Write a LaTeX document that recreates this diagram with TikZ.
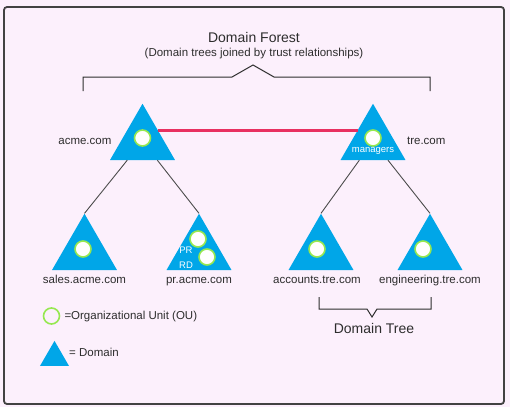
\documentclass[tikz,border=0pt]{standalone}
\usepackage{fontspec}
\setmainfont{Liberation Sans}
\usepackage{tikz}
\usetikzlibrary{shapes.geometric, positioning, calc}

\definecolor{domainblue}{RGB}{0,166,232}
\definecolor{trustred}{RGB}{232,48,96}
\definecolor{ougreen}{RGB}{150,232,80}
\definecolor{paper}{RGB}{252,240,252}
\definecolor{ink}{RGB}{45,45,45}

\begin{document}
\begin{tikzpicture}[
    x=1pt, y=-1pt,
    dom/.style={regular polygon, regular polygon sides=3, fill=domainblue,
                inner sep=0pt, minimum size=75pt},
    ou/.style={circle, draw=ougreen, line width=1.6pt, fill=white,
               minimum size=16pt, inner sep=0pt},
    site/.style={font=\fontsize{11.5}{13}\selectfont, text=ink, inner sep=0pt,
                 text height=8.5pt, text depth=2.5pt},
    intext/.style={font=\fontsize{9.5}{11}\selectfont, text=white, inner sep=0pt},
    heading/.style={font=\fontsize{14}{16}\selectfont, text=ink, inner sep=0pt},
    link/.style={draw=ink!85, line width=0.9pt},
    trust/.style={draw=trustred, line width=3pt},
    brace/.style={draw=ink, line width=1pt}
]

% page and frame
\fill[paper] (0,0) rectangle (510,407);
\draw[ink!90, line width=1.8pt, rounded corners=3pt] (4,7) rectangle (504,404);

\node[heading] (forest) at (254,37) {Domain Forest};
\node[site, font=\fontsize{11.5}{13}\selectfont, below=5pt of forest] (forestsub)
     {(Domain trees joined by trust relationships)};
\draw[brace] (83,91) -- (83,77) -- (232,77) -- (253,65) -- (274,77) -- (430,77) -- (430,91);

% domains
\node[dom] (acme)  at (142.5,141.25) {};
\node[dom] (tre)   at (373,141.25)   {};
\node[dom] (sales) at (84.5,251.25)  {};
\node[dom] (pr)    at (199,251.25)   {};
\node[dom] (acct)  at (321,251.25)   {};
\node[dom] (eng)   at (430,251.25)   {};

% organizational units
\node[ou] (acmeou)  at (142.5,138) {};
\node[ou] (treou)   at (373,138)   {};
\node[ou] (salesou) at (83,249)    {};
\node[ou] (prou)    at (198,239)   {};
\node[ou] (rdou)    at (207,257)   {};
\node[ou] (acctou)  at (317,249)   {};
\node[ou] (engou)   at (423,249)   {};

\node[intext] (mgr) at (373,151) {managers};
\node[intext] (prlbl) at (186,250) {PR};
\node[intext] (rdlbl) at (186,265) {RD};

% trust and tree links
\draw[trust] ($(acme.corner 1)!0.47!(acme.corner 3)$) -- ($(tre.corner 1)!0.47!(tre.corner 2)$);
\draw[link] (acme) -- (sales.corner 1);
\draw[link] (acme) -- (pr.corner 1);
\draw[link] (tre)  -- (acct.corner 1);
\draw[link] (tre)  -- (eng.corner 1);

\node[site, left=9pt of acme]   (acmename)  {acme.com};
\node[site, right=12pt of tre]  (trename)   {tre.com};
\node[site, below=5pt of sales] (salesname) {sales.acme.com};
\node[site, below=5pt of pr]    (prname)    {pr.acme.com};
\node[site, below=5pt of acct, xshift=-4pt] (acctname) {accounts.tre.com};
\node[site, below=5pt of eng]   (engname)   {engineering.tre.com};

% domain tree brace
\draw[brace] (319,297) -- (319,309) -- (367,309) -- (372,317) -- (377,309) -- (431,309) -- (431,297);
\node[heading] (tree) at (374,328) {Domain Tree};

% legend
\node[ou, fill=none] (keyou) at (51.5,316) {};
\node[site, right=4pt of keyou] (keyoutext) {=Organizational Unit (OU)};
\node[dom, minimum size=33.5pt] (keydom) at (54.5,357.6) {};
\node[site, anchor=west] (keydomtext) at (69,353) {= Domain};

\end{tikzpicture}
\end{document}
